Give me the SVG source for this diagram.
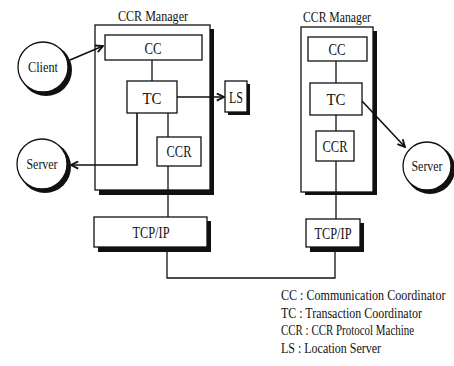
<svg xmlns="http://www.w3.org/2000/svg" width="454" height="366" viewBox="0 0 454 366">
<style>
  .box{fill:#fff;stroke:#111;stroke-width:1.3}
  .sh{fill:#111}
  .ln{fill:none;stroke:#111;stroke-width:1.3}
  .arr{fill:none;stroke:#111;stroke-width:1.6;marker-end:url(#ah)}
  text{font-family:"Liberation Serif","Times New Roman",serif;fill:#111}
  .lbl{font-size:17px;text-anchor:middle}
  .cir{font-size:15px;text-anchor:middle}
  .ttl{font-size:15px;text-anchor:middle}
  .leg{font-size:14px}
</style>
<defs>
  <marker id="ah" viewBox="0 0 10 10" refX="9" refY="5" markerWidth="9" markerHeight="9" markerUnits="userSpaceOnUse" orient="auto">
    <path d="M1,1 L9,5 L1,9" fill="none" stroke="#111" stroke-width="2"/>
  </marker>
</defs>

<g id="manager-left">
  <rect class="sh" x="99" y="29" width="115" height="166"/>
  <rect class="box" x="95" y="25" width="115" height="165"/>
  <text class="ttl" x="153" y="21" textLength="70" lengthAdjust="spacingAndGlyphs">CCR Manager</text>
</g>
<g id="manager-right">
  <rect class="sh" x="305" y="31" width="72" height="164"/>
  <rect class="box" x="301" y="27" width="72" height="165"/>
  <text class="ttl" x="337" y="22" textLength="68" lengthAdjust="spacingAndGlyphs">CCR Manager</text>
</g>

<g id="connectors">
  <line class="ln" x1="152" y1="60" x2="152" y2="81"/>
  <line class="ln" x1="168" y1="113" x2="168" y2="137"/>
  <line class="ln" x1="168" y1="166" x2="168" y2="217"/>
  <polyline class="ln" points="167,247 167,278 335,278 335,247"/>
  <line class="ln" x1="336" y1="61" x2="336" y2="83"/>
  <line class="ln" x1="336" y1="115" x2="336" y2="131"/>
  <line class="ln" x1="336" y1="161" x2="336" y2="219"/>
  <line class="arr" x1="70" y1="60" x2="103" y2="46"/>
  <line class="arr" x1="177" y1="97" x2="224" y2="97"/>
  <polyline class="arr" points="137,113 137,165 71,165"/>
  <line class="arr" x1="362" y1="101" x2="405" y2="147"/>
</g>

<g id="cc-left"><rect class="box" x="105" y="35" width="97" height="25"/><text class="lbl" x="153" y="54" textLength="17" lengthAdjust="spacingAndGlyphs">CC</text></g>
<g id="tc-left"><rect class="box" x="127" y="81" width="50" height="32"/><text class="lbl" x="152" y="104" textLength="19" lengthAdjust="spacingAndGlyphs">TC</text></g>
<g id="ccr-left"><rect class="box" x="157" y="137" width="44" height="29"/><text class="lbl" x="179" y="157" textLength="25" lengthAdjust="spacingAndGlyphs">CCR</text></g>
<g id="ls"><rect class="sh" x="228" y="84" width="22" height="31"/><rect class="box" x="225" y="81" width="22" height="31"/><text class="lbl" x="236" y="103" textLength="14" lengthAdjust="spacingAndGlyphs">LS</text></g>
<g id="tcpip-left"><rect class="sh" x="98" y="221" width="113" height="31"/><rect class="box" x="94" y="217" width="113" height="30"/><text class="lbl" x="151" y="238" textLength="37" lengthAdjust="spacingAndGlyphs">TCP/IP</text></g>

<g id="cc-right"><rect class="box" x="308" y="37" width="59" height="24"/><text class="lbl" x="337" y="55" textLength="17" lengthAdjust="spacingAndGlyphs">CC</text></g>
<g id="tc-right"><rect class="box" x="310" y="83" width="52" height="32"/><text class="lbl" x="336" y="105" textLength="19" lengthAdjust="spacingAndGlyphs">TC</text></g>
<g id="ccr-right"><rect class="box" x="316" y="131" width="38" height="30"/><text class="lbl" x="335" y="152" textLength="25" lengthAdjust="spacingAndGlyphs">CCR</text></g>
<g id="tcpip-right"><rect class="sh" x="310" y="223" width="54" height="29"/><rect class="box" x="306" y="219" width="54" height="28"/><text class="lbl" x="333" y="239" textLength="37" lengthAdjust="spacingAndGlyphs">TCP/IP</text></g>

<g id="client"><circle class="sh" cx="46" cy="70" r="26"/><circle class="box" cx="43" cy="67" r="25"/><text class="cir" x="43" y="72" textLength="30" lengthAdjust="spacingAndGlyphs">Client</text></g>
<g id="server-left"><circle class="sh" cx="45" cy="167" r="26"/><circle class="box" cx="42" cy="164" r="25"/><text class="cir" x="42" y="169" textLength="31" lengthAdjust="spacingAndGlyphs">Server</text></g>
<g id="server-right"><circle class="sh" cx="430" cy="169" r="25"/><circle class="box" cx="427" cy="166" r="24"/><text class="cir" x="427" y="171" textLength="31" lengthAdjust="spacingAndGlyphs">Server</text></g>

<g id="legend" transform="translate(281,0) scale(0.87,1)">
  <text class="leg" x="0" y="300" textLength="189" lengthAdjust="spacingAndGlyphs">CC : Communication Coordinator</text>
  <text class="leg" x="0" y="318" textLength="162" lengthAdjust="spacingAndGlyphs">TC : Transaction Coordinator</text>
  <text class="leg" x="0" y="335" textLength="153" lengthAdjust="spacingAndGlyphs">CCR : CCR Protocol Machine</text>
  <text class="leg" x="0" y="353" textLength="115" lengthAdjust="spacingAndGlyphs">LS : Location Server</text>
</g>
</svg>
